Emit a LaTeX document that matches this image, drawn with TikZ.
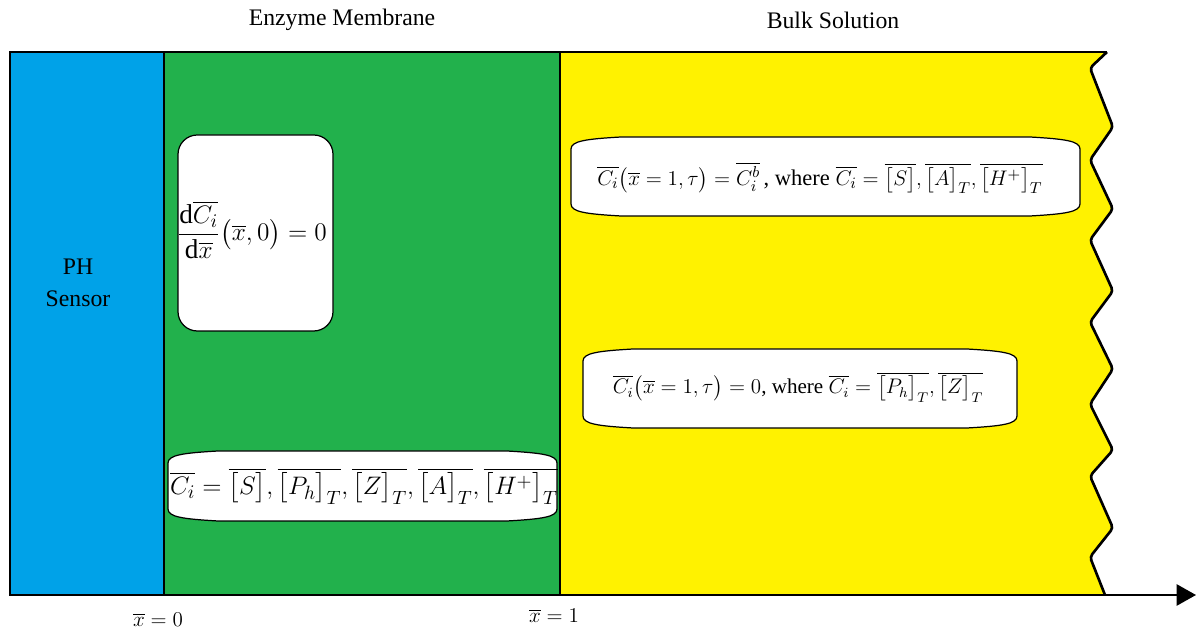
\documentclass[tikz,border=0pt]{standalone}
\usepackage{amsmath}
\usepackage{fontspec}
\setmainfont{Liberation Serif}
\usetikzlibrary{arrows.meta,positioning}
\definecolor{sensorblue}{HTML}{00A2E8}
\definecolor{membgreen}{HTML}{22B14C}
\definecolor{bulkyellow}{HTML}{FFF200}
\tikzset{
  region/.style={draw=black,line width=0.6pt},
  headlabel/.style={font=\fontsize{13.5}{16}\selectfont,inner sep=0pt,align=center},
  eqtext/.style={font=\fontsize{#1}{#1}\selectfont,inner sep=0pt},
  eqtext/.default=15,
  scrollframe/.style={draw=black,fill=white,line width=0.7pt},
  roundframe/.style={draw=black,fill=white,line width=0.7pt,rounded corners=11pt},
  wave/.style={line width=1.5pt,rounded corners=2pt},
  axisarr/.style={-{Triangle[length=11pt,width=12pt]},line width=1.3pt}
}
\newcommand{\dd}{\mathrm{d}}
% scroll-like frame: left, top, right, bottom (pixel units, y downwards)
\newcommand{\scrollbox}[4]{%
  \draw[scrollframe] (#1,{#2+12}) .. controls (#1,{#2+4}) and ({#1+15},{#2+2}) .. ({#1+50},#2)
    -- ({#3-50},#2) .. controls ({#3-15},{#2+2}) and (#3,{#2+4}) .. (#3,{#2+12})
    -- (#3,{#4-12}) .. controls (#3,{#4-4}) and ({#3-15},{#4-2}) .. ({#3-50},#4)
    -- ({#1+50},#4) .. controls ({#1+15},{#4-2}) and (#1,{#4-4}) .. (#1,{#4-12}) -- cycle;}
\begin{document}
\begin{tikzpicture}[x=0.02cm,y=-0.02cm,>=Latex]
  \useasboundingbox (0,0) rectangle (1198,634);
  % regions
  \fill[bulkyellow] (560,52) -- (1107,52) -- (1090,68) -- (1113,127) -- (1090,160) -- (1113,209)
    -- (1090,240) -- (1113,291) -- (1090,322) -- (1113,369) -- (1090,404) -- (1113,450)
    -- (1090,476) -- (1113,528) -- (1090,557) -- (1105,595) -- (560,595) -- cycle;
  \draw[region,fill=sensorblue] (10,52) rectangle (164,595);
  \draw[region,fill=membgreen] (164,52) rectangle (560,595);
  \draw[region] (560,52) -- (1107,52);
  \draw[wave] (1107,52) -- (1090,68) -- (1113,127) -- (1090,160) -- (1113,209)
    -- (1090,240) -- (1113,291) -- (1090,322) -- (1113,369) -- (1090,404) -- (1113,450)
    -- (1090,476) -- (1113,528) -- (1090,557) -- (1105,595);
  \coordinate (origin) at (10,595);
  \coordinate (axisend) at (1196,595);
  \draw[axisarr] (origin) -- (axisend);

  \node[headlabel] (enzlabel) at (342,20) {Enzyme Membrane};
  \node[headlabel] (bulklabel) at (833,20) {Bulk Solution};
  \node[headlabel] (phlabel) at (78,283) {PH\\[2pt]Sensor};

  % boundary conditions
  \draw[roundframe] (178,135) rectangle (333,331);
  \node[eqtext=15.5] (bcflux) at (252,230)
    {$\dfrac{\dd\overline{C_i}}{\dd\overline{x}}\bigl(\overline{x},0\bigr)=0$};
  \scrollbox{168}{451}{557}{521}
  \node[eqtext] (cilist) at (364,486)
    {$\overline{C_i}=\overline{\bigl[S\bigr]},\overline{\bigl[P_h\bigr]_T},\overline{\bigl[Z\bigr]_T},\overline{\bigl[A\bigr]_T},\overline{\bigl[H^+\bigr]_T}$};
  \scrollbox{571}{137}{1080}{216}
  \node[eqtext=12.8] (bcbulk) at (820,178)
    {$\overline{C_i}\bigl(\overline{x}=1,\tau\bigr)=\overline{C_i^b}\,$, where $\overline{C_i}=\overline{\bigl[S\bigr]},\overline{\bigl[A\bigr]_T},\overline{\bigl[H^+\bigr]_T}$};
  \scrollbox{583}{349}{1017}{428}
  \node[eqtext=12] (bczero) at (798,387)
    {$\overline{C_i}\bigl(\overline{x}=1,\tau\bigr)=0$, where $\overline{C_i}=\overline{\bigl[P_h\bigr]_T},\overline{\bigl[Z\bigr]_T}$};

  \node[eqtext=11.5] (xzero) at (158,620) {$\overline{x}=0$};
  \node[eqtext=11.5] (xone) at (554,616) {$\overline{x}=1$};
\end{tikzpicture}
\end{document}
